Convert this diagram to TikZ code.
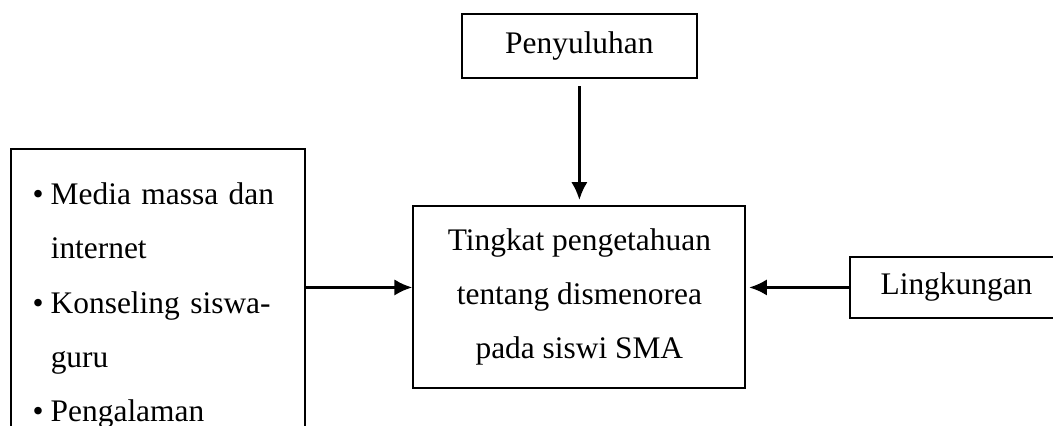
\documentclass[tikz,border=0pt]{standalone}
\usepackage{fontspec}
\setmainfont{Liberation Serif}
\usepackage{tikz}
\usetikzlibrary{arrows.meta}
\usetikzlibrary{calc}

\newcommand{\butir}{\makebox[6.9pt][l]{\textbullet}}
\newcommand{\lanjut}{\hspace*{6.9pt}}

\begin{document}
\begin{tikzpicture}[font=\fontsize{12}{20.7}\selectfont,
	kotak/.style={draw, line width=0.8pt, align=center, inner sep=0pt},
	panah/.style={line width=1pt, -{Latex[length=6.8pt,width=6.2pt]}}]
	\useasboundingbox (0,0) rectangle (14.14,-5.72);
	\clip (0,0) rectangle (14.14,-5.72);
	\node[kotak, minimum width=3.16cm, minimum height=0.86cm] (P) at (7.78,-0.62){Penyuluhan};
	\node[kotak, minimum width=4.46cm, minimum height=2.44cm] (T) at (7.78,-3.99){Tingkat pengetahuan\\tentang dismenorea\\pada siswi SMA};
	\node[kotak, anchor=west, minimum width=2.86cm, minimum height=0.82cm] (L) at (11.40,-3.86){Lingkungan};
	\node[draw, line width=0.8pt, anchor=north west, align=left, text width=95.5pt,
		inner xsep=8.4pt, inner ysep=9.8pt, minimum height=4.2cm] (F) at (0.13,-1.99)
		{\butir Media massa dan\\ \lanjut internet\\ \butir Konseling siswa-\\ \lanjut guru\\ \butir Pengalaman};
	\draw[panah, shorten <=2.7pt, shorten >=2pt] (P) -- (T);
	\draw[panah] (F.east |- L.west) -- (T.west |- L.west);
	\draw[panah, shorten >=1pt] (L.west) -- (T.east |- L.west);
\end{tikzpicture}
\end{document}
